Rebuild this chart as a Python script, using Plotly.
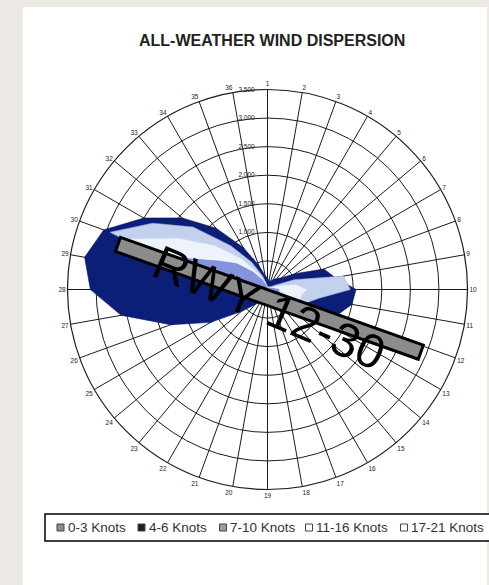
import numpy as np
import plotly.graph_objects as go

W, H = 489, 585

# 36 compass spokes, labelled 1..36 clockwise from the top
direction_labels = [str(k) for k in range(1, 37)]
direction_angles = [10 * i for i in range(36)]

# radial scale (observations)
radial_ticks = [500, 1000, 1500, 2000, 2500, 3000, 3500]
radial_tick_labels = ["500", "1,000", "1,500", "2,000", "2,500", "3,000", "3,500"]

speed_bins = ["0-3 Knots", "4-6 Knots", "7-10 Knots", "11-16 Knots", "17-21 Knots"]

obs_0_3 = [150, 100, 100, 150, 150, 200, 350, 650, 850, 1050, 1000, 850,
           500, 250, 150, 150, 150, 150, 150, 150, 150, 200, 300, 450,
           800, 1300, 1800, 2200, 2300, 2200, 1800, 1400, 1000, 600, 300, 150]
obs_4_6 = [200, 150, 150, 200, 250, 320, 550, 1050, 1200, 1550, 1500, 1300,
           900, 450, 250, 200, 200, 200, 200, 200, 200, 250, 350, 600,
           1150, 1800, 2600, 3100, 3250, 3050, 2500, 1950, 1400, 850, 450, 250]
obs_7_10 = [60, 50, 50, 60, 60, 80, 150, 500, 1350, 1450, 900, 700,
            300, 120, 80, 60, 60, 60, 60, 60, 60, 60, 80, 120,
            200, 300, 500, 800, 1300, 2930, 2320, 1700, 1000, 550, 250, 100]
obs_11_16 = [30, 30, 30, 30, 30, 40, 60, 200, 500, 700, 600, 600,
             150, 60, 40, 30, 30, 30, 30, 30, 30, 30, 40, 60,
             100, 150, 250, 400, 800, 2600, 1800, 1200, 700, 350, 150, 50]
obs_17_21 = [10, 10, 10, 10, 10, 10, 20, 50, 100, 200, 200, 300,
             50, 20, 10, 10, 10, 10, 10, 10, 10, 10, 10, 20,
             30, 50, 80, 150, 300, 1600, 1000, 700, 400, 200, 80, 20]

series = [obs_0_3, obs_4_6, obs_7_10, obs_11_16, obs_17_21]
fill_colors = ["#56648F", "#0B1F78", "#C3D1EE", "#EEF3FB", "#8394DC"]
edge_colors = ["#3E4A70", "#081862", "#9FB2DE", "#C9D6EE", "#6A7CCB"]
legend_swatches = ["#8A8C98", "#1A1C2A", "#9A9CA8", "#FFFFFF", "#FFFFFF"]

# plot geometry in pixels
CX, CY, R = 267.5, 289.5, 200.0
R_MAX = 3500

fig = go.Figure()
for name, vals, fc, ec in zip(speed_bins, series, fill_colors, edge_colors):
    fig.add_trace(go.Scatterpolar(
        r=vals + vals[:1],
        theta=direction_angles + direction_angles[:1],
        mode="lines",
        fill="toself",
        fillcolor=fc,
        line=dict(color=ec, width=0.6),
        name=name,
        showlegend=False,
        hoverinfo="skip",
    ))

grid = "#1c1c1c"
fig.update_layout(
    width=W, height=H,
    margin=dict(l=0, r=0, t=0, b=0),
    paper_bgcolor="#ECE9E5",
    font=dict(family="Liberation Sans, Arial", color="#222222"),
    polar=dict(
        domain=dict(x=[(CX - R) / W, (CX + R) / W],
                    y=[(H - CY - R) / H, (H - CY + R) / H]),
        bgcolor="rgba(0,0,0,0)",
        angularaxis=dict(
            rotation=90, direction="clockwise",
            tickmode="array", tickvals=direction_angles, ticktext=direction_labels,
            tickfont=dict(size=6.5, color="#222222"),
            ticks="", showline=True, linecolor=grid, linewidth=1.2,
            showgrid=True, gridcolor=grid, gridwidth=1,
            layer="below traces",
        ),
        radialaxis=dict(
            range=[0, R_MAX], angle=90, side="counterclockwise",
            tickmode="array", tickvals=radial_ticks, ticktext=radial_tick_labels,
            tickangle=90,
            tickfont=dict(size=6.5, color="#222222"),
            ticks="outside", ticklen=10, tickcolor="rgba(0,0,0,0)",
            showline=False, showgrid=True, gridcolor=grid, gridwidth=1,
            layer="below traces",
        ),
    ),
)

shapes = []
# white page panel
shapes.append(dict(type="rect", xref="paper", yref="paper", layer="below",
                   x0=23 / W, x1=487 / W, y0=0, y1=(H - 7) / H,
                   fillcolor="white", line=dict(width=0)))

# runway 12-30 bar drawn across the rose
rwy_heading = 109.6          # degrees clockwise from the top
rwy_half_len, rwy_half_w = 160.7, 7.5
rwy_cx, rwy_cy = CX + 1.9, CY + 8.8
a = np.deg2rad(rwy_heading)
ux, uy = np.sin(a), np.cos(a)      # along-runway unit vector (screen, y up)
nx, ny = -uy, ux
corners = []
for sl, sw in [(-1, -1), (1, -1), (1, 1), (-1, 1)]:
    px = rwy_cx + sl * rwy_half_len * ux + sw * rwy_half_w * nx
    py_up = (H - rwy_cy) + sl * rwy_half_len * uy + sw * rwy_half_w * ny
    corners.append((px / W, py_up / H))
path = "M " + " L ".join(f"{x:.5f},{y:.5f}" for x, y in corners) + " Z"
shapes.append(dict(type="path", xref="paper", yref="paper", path=path,
                   fillcolor="#8C8C8C", line=dict(color="black", width=3)))

# legend frame and swatches
LEG_TOP, LEG_BOT = 514, 541
shapes.append(dict(type="rect", xref="paper", yref="paper",
                   x0=45 / W, x1=500 / W, y0=(H - LEG_BOT) / H, y1=(H - LEG_TOP) / H,
                   fillcolor="white", line=dict(color="black", width=1.5)))
swatch_x = [57, 138, 219.5, 305.5, 400.5]
leg_mid = (LEG_TOP + LEG_BOT) / 2
annotations = []
for sx, name, sc in zip(swatch_x, speed_bins, legend_swatches):
    shapes.append(dict(type="rect", xref="paper", yref="paper",
                       x0=sx / W, x1=(sx + 7) / W,
                       y0=(H - leg_mid - 3.5) / H, y1=(H - leg_mid + 3.5) / H,
                       fillcolor=sc, line=dict(color="#444444", width=1)))
    annotations.append(dict(x=(sx + 8.5) / W, y=(H - leg_mid) / H, xref="paper", yref="paper",
                            text=name, showarrow=False, xanchor="left", yanchor="middle",
                            font=dict(size=13.5, color="#333333")))

annotations.append(dict(x=272 / W, y=(H - 41) / H, xref="paper", yref="paper",
                        text="<b>ALL-WEATHER WIND DISPERSION</b>", showarrow=False,
                        xanchor="center", yanchor="middle",
                        font=dict(size=16, color="#222222")))
annotations.append(dict(x=268.5 / W, y=(H - 307.5) / H, xref="paper", yref="paper",
                        text="RWY 12-30", showarrow=False, textangle=23,
                        xanchor="center", yanchor="middle",
                        font=dict(size=48, color="black")))

fig.update_layout(shapes=shapes, annotations=annotations)
fig.write_html("out.html")
